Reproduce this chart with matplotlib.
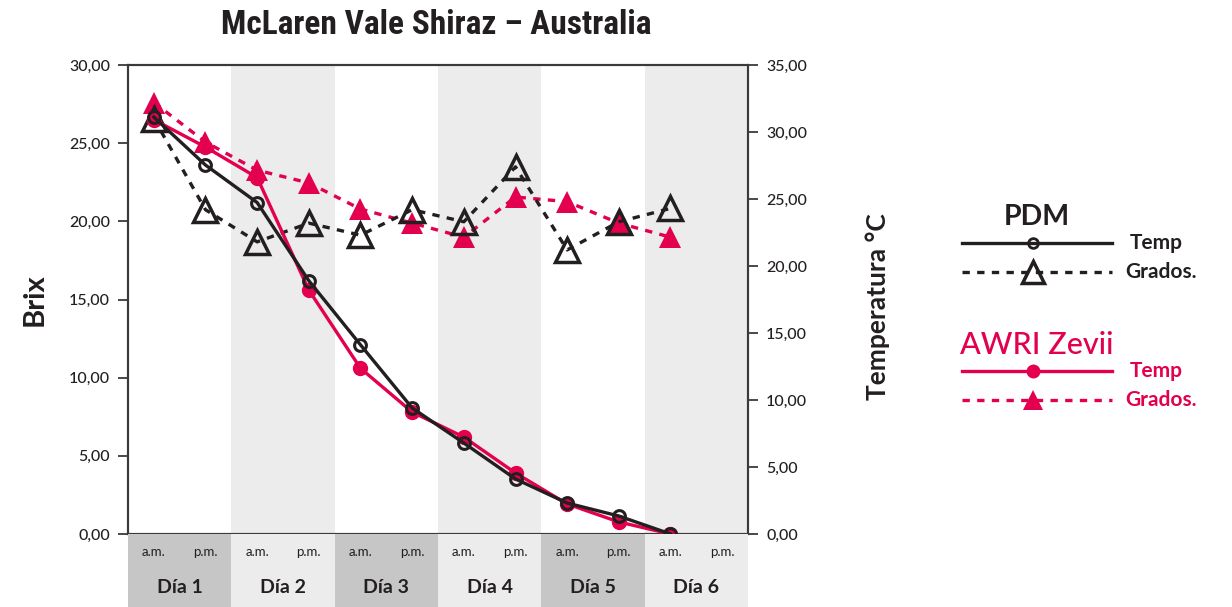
import matplotlib
matplotlib.use("Agg")
import matplotlib.pyplot as plt
from matplotlib.lines import Line2D
from matplotlib.ticker import FuncFormatter, MultipleLocator
from matplotlib import font_manager

# fermentation readings, one per half day (Día 1 a.m. ... Día 6 a.m.)
days = ["Día 1", "Día 2", "Día 3", "Día 4", "Día 5", "Día 6"]
halves = ["a.m.", "p.m."]
pdm_brix = [26.67, 23.6, 21.2, 16.2, 12.1, 8.06, 5.82, 3.52, 1.98, 1.15, 0.0]
awri_brix = [26.5, 24.75, 22.8, 15.6, 10.6, 7.8, 6.2, 3.9, 1.92, 0.77, 0.0]
pdm_temp = [31.0, 24.2, 21.8, 23.2, 22.3, 24.2, 23.3, 27.4, 21.2, 23.3, 24.3]
awri_temp = [32.2, 29.25, 27.15, 26.2, 24.25, 23.2, 22.15, 25.15, 24.8, 23.2, 22.15]

DARK = "#231f20"
RED = "#e2004f"
BAND = "#ececec"
BAND_DARK = "#c6c6c6"

installed = {f.name for f in font_manager.fontManager.ttflist}
def pick(*names):
    return [n for n in names if n in installed] + ["DejaVu Sans"]

BODY = pick("Lato", "Open Sans")
NARROW = pick("Roboto Condensed", "Liberation Sans Narrow", "Open Sans")
plt.rcParams["font.family"] = BODY

fig = plt.figure(figsize=(12.32, 6.07), dpi=100)
L, R, B, T = 128 / 1232, 748 / 1232, 73 / 607, 542 / 607
ax = fig.add_axes([L, B, R - L, T - B])
ax2 = ax.twinx()

x = list(range(len(pdm_brix)))
nslots = len(days) * 2
for d in range(len(days)):
    if d % 2 == 1:
        ax.axvspan(2 * d - 0.5, 2 * d + 1.5, color=BAND, lw=0, zorder=0)

ax.set_xlim(-0.5, nslots - 0.5)
ax.set_ylim(0, 30)
ax2.set_ylim(0, 35)
ax.yaxis.set_major_locator(MultipleLocator(5))
ax2.yaxis.set_major_locator(MultipleLocator(5))
fmt = FuncFormatter(lambda v, p: f"{v:.2f}".replace(".", ","))
ax.yaxis.set_major_formatter(fmt)
ax2.yaxis.set_major_formatter(fmt)
ax.set_xticks([])

for a in (ax, ax2):
    for s in a.spines.values():
        s.set_color("#3a3a3a")
        s.set_linewidth(1.5)
    a.tick_params(axis="y", direction="out", length=7, width=1.3, color="#3a3a3a",
                  labelsize=11.5, labelcolor=DARK, pad=6)
    for t in a.get_yticklabels():
        t.set_fontweight("medium")

# temperature (dashed, right axis)
ax2.plot(x, awri_temp, ls=(0, (2.2, 2.2)), lw=2.4, color=RED, marker="^",
         ms=16, mfc=RED, mec=RED, mew=0, zorder=3)
ax2.plot(x, pdm_temp, ls=(0, (2.2, 2.2)), lw=2.4, color=DARK, marker="^",
         ms=17, mfc="none", mec=DARK, mew=2.5, zorder=4)
# brix (solid, left axis)
ax2.plot(x, [v * 35 / 30 for v in awri_brix], lw=2.4, color=RED, marker="o",
         ms=10, mfc=RED, mec=RED, zorder=5)
ax2.plot(x, [v * 35 / 30 for v in pdm_brix], lw=2.4, color=DARK, marker="o",
         ms=8.5, mfc="none", mec=DARK, mew=2.2, zorder=6)

ax.set_ylabel("Brix", fontsize=21, fontweight="bold", color=DARK)
ax.yaxis.set_label_coords(-0.129, 0.5)
ax2.set_ylabel("Temperatura °C", fontsize=19, fontweight="bold", color=DARK,
               rotation=90)
ax2.yaxis.set_label_coords(1.189, 0.484)

# day / half-day strip under the plot
axs = fig.add_axes([L, 0, R - L, B])
axs.set_xlim(-0.5, nslots - 0.5)
axs.set_ylim(0, 1)
axs.axis("off")
for d, day in enumerate(days):
    axs.axvspan(2 * d - 0.5, 2 * d + 1.5, color=BAND_DARK if d % 2 == 0 else BAND, lw=0)
    axs.text(2 * d + 0.5, 0.27, day, ha="center", va="center", fontsize=14,
             fontweight="bold", color=DARK)
    for h, lab in enumerate(halves):
        axs.text(2 * d + h, 0.75, lab, ha="center", va="center", fontsize=9.5,
                 color=DARK)

fig.text(436 / 1232, 1 - 25 / 607, "McLaren Vale Shiraz – Australia",
         ha="center", va="center", fontsize=24, fontweight="bold", color=DARK,
         family=NARROW)

# legend
def fy(py):
    return 1 - py / 607

fig.text(1037 / 1232, fy(217), "PDM", ha="center", va="center", fontsize=20.5,
         fontweight="bold", color=DARK)
fig.text(960 / 1232, fy(345), "AWRI Zevii", ha="left", va="center", fontsize=22,
         fontweight="medium", color=RED)
rows = [
    (243, "-", "o", DARK, "none", 7, 2, "Temp", 1130),
    (272, (0, (2.2, 2.2)), "^", DARK, "none", 16, 2.5, "Grados.", 1125),
    (371, "-", "o", RED, RED, 10, 0, "Temp", 1130),
    (400, (0, (2.2, 2.2)), "^", RED, RED, 15, 0, "Grados.", 1125),
]
for py, ls, mk, col, fc, ms, mew, lab, tx in rows:
    fig.add_artist(Line2D([962 / 1232, 1112 / 1232], [fy(py)] * 2, ls=ls, lw=2.4,
                          color=col, transform=fig.transFigure))
    fig.add_artist(Line2D([1033 / 1232], [fy(py)], marker=mk, ms=ms, mfc=fc,
                          mec=col, mew=mew, ls="none", transform=fig.transFigure))
    fig.text(tx / 1232, fy(py), lab, ha="left", va="center", fontsize=15,
             fontweight="bold", color=col)

fig.savefig("out.png", dpi=100)
